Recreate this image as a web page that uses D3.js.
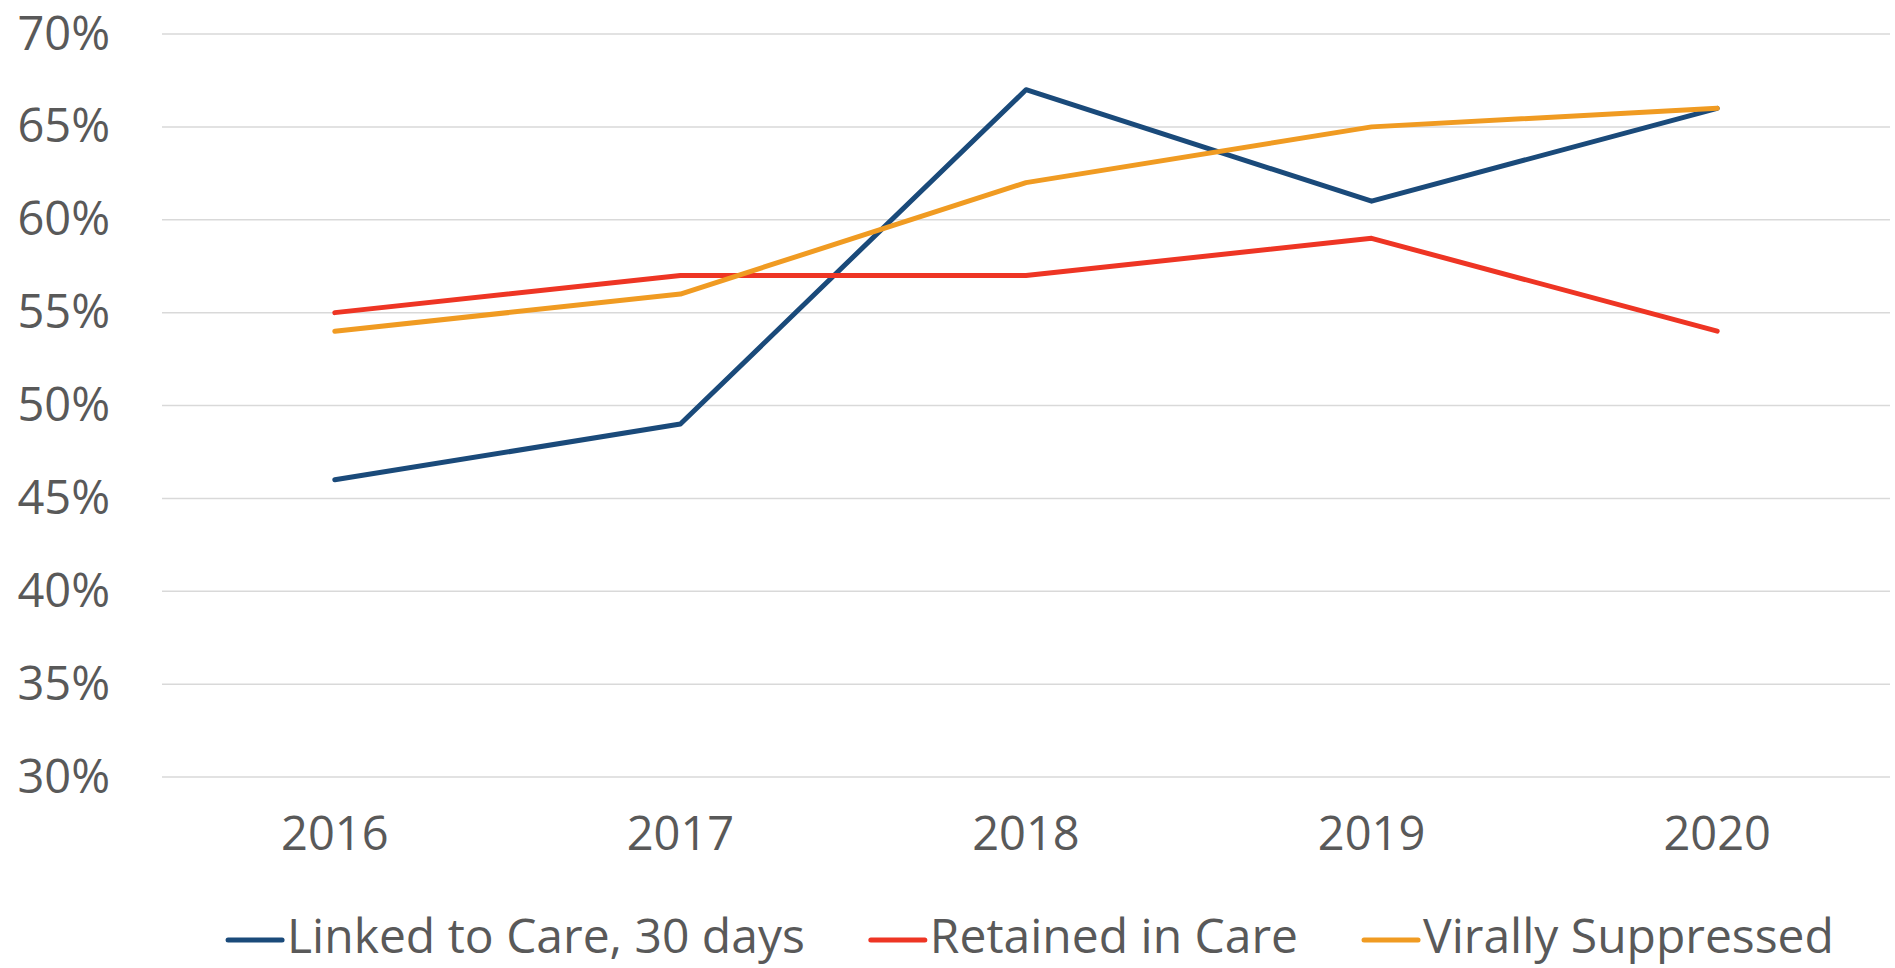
<!DOCTYPE html>
<html>
<head>
<meta charset="utf-8">
<script src="https://cdn.jsdelivr.net/npm/d3@7"></script>
<style>
  body { margin: 0; background: #fff; }
  text { font-family: "Open Sans", sans-serif; fill: #595959; }
</style>
</head>
<body>
<svg id="chart"></svg>
<script>
const years = ["2016", "2017", "2018", "2019", "2020"];
const linkedToCare = [46, 49, 67, 61, 66];
const retainedInCare = [55, 57, 57, 59, 54];
const virallySuppressed = [54, 56, 62, 65, 66];
const yTicks = [30, 35, 40, 45, 50, 55, 60, 65, 70];

const seriesNames = ["Linked to Care, 30 days", "Retained in Care", "Virally Suppressed"];
const seriesColors = ["#1A4A7A", "#EE3524", "#F09B22"];
const series = [linkedToCare, retainedInCare, virallySuppressed].map((values, i) => ({
    name: seriesNames[i], color: seriesColors[i], values: values
}));

const width = 1895, height = 968;
const margin = { top: 34, right: 5, bottom: 191, left: 162 };
const plotW = width - margin.left - margin.right;
const plotH = height - margin.top - margin.bottom;

const svg = d3.select("#chart")
    .attr("width", width)
    .attr("height", height);
const g = svg.append("g")
    .attr("transform", "translate(" + margin.left + "," + margin.top + ")");

const x = d3.scaleBand().domain(years).range([0, plotW]);
const y = d3.scaleLinear().domain([30, 70]).range([plotH, 0]);

// Gridlines
g.append("g")
    .selectAll("line")
    .data(yTicks)
    .enter()
    .append("line")
    .attr("x1", 0)
    .attr("x2", plotW)
    .attr("y1", d => y(d))
    .attr("y2", d => y(d))
    .attr("stroke", "#D9D9D9")
    .attr("stroke-width", 1.5);

// Y axis labels
const yAxis = g.append("g")
    .call(d3.axisLeft(y).tickValues(yTicks).tickFormat(d => d + "%").tickSize(0).tickPadding(52));
yAxis.select(".domain").remove();
yAxis.selectAll("text")
    .style("font-size", "47px")
    .attr("fill", "#595959");

// X axis labels
const xAxis = g.append("g")
    .attr("transform", "translate(0," + plotH + ")")
    .call(d3.axisBottom(x).tickSize(0).tickPadding(40));
xAxis.select(".domain").remove();
xAxis.selectAll("text")
    .style("font-size", "47px")
    .attr("fill", "#595959");

// Lines
const line = d3.line()
    .x((d, i) => x(years[i]) + x.bandwidth() / 2)
    .y(d => y(d));

g.selectAll(".series")
    .data(series)
    .enter()
    .append("path")
    .attr("class", "series")
    .attr("d", d => line(d.values))
    .attr("fill", "none")
    .attr("stroke", d => d.color)
    .attr("stroke-width", 5)
    .attr("stroke-linecap", "round")
    .attr("stroke-linejoin", "round");

// Legend
const legend = svg.append("g");
const items = legend.selectAll("g")
    .data(series)
    .enter()
    .append("g");
items.append("line")
    .attr("x1", 0).attr("x2", 54)
    .attr("y1", 0).attr("y2", 0)
    .attr("stroke", d => d.color)
    .attr("stroke-width", 5)
    .attr("stroke-linecap", "round");
items.append("text")
    .attr("x", 59)
    .attr("y", 13)
    .style("font-size", "48px")
    .text(d => d.name);

let offset = 0;
const gap = 66;
items.each(function() {
    const item = d3.select(this);
    item.attr("transform", "translate(" + offset + ",0)");
    offset += 59 + item.select("text").node().getComputedTextLength() + gap;
});
const total = offset - gap;
legend.attr("transform", "translate(" + (1031 - total / 2) + ",940)");
</script>
</body>
</html>
